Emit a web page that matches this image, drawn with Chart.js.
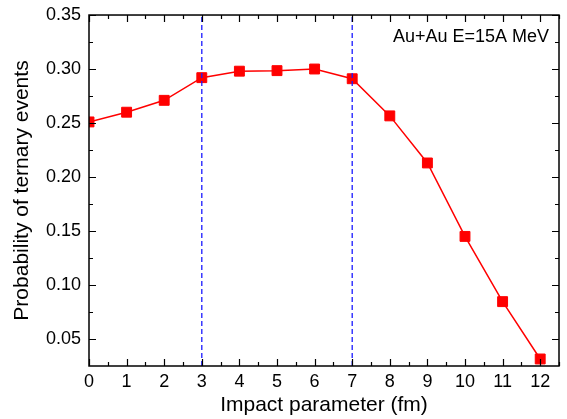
<!DOCTYPE html>
<html>
<head>
<meta charset="utf-8">
<script src="https://cdn.jsdelivr.net/npm/chart.js@4/dist/chart.umd.min.js"></script>
<style>
  html, body { margin: 0; padding: 0; background: #fff; }
  #wrap { width: 567px; height: 419px; }
</style>
</head>
<body>
<div id="wrap"><canvas id="ternaryChart" width="567" height="419"></canvas></div>
<script>
// datos
const impactParams = [0, 1, 2, 3, 4, 5, 6, 7, 8, 9, 10, 11, 12];
const ternaryProb = [0.251, 0.260, 0.271, 0.292, 0.298, 0.2985, 0.300, 0.291, 0.2566, 0.213, 0.145, 0.0846, 0.0315];
const cutLines = [3, 7]; // lineas verticales punteadas
const xTicks = [0, 1, 2, 3, 4, 5, 6, 7, 8, 9, 10, 11, 12];
const yTicks = [0.05, 0.10, 0.15, 0.20, 0.25, 0.30, 0.35];
const xRange = [0, 12.5];
const yRange = [0.025, 0.35];
const annotation = 'Au+Au E=15A MeV';

const FONT = 'Liberation Sans, Arial, sans-serif';

document.addEventListener("DOMContentLoaded", function () {
    var ctx = document.getElementById('ternaryChart').getContext('2d');

    // marco con ticks hacia adentro en los cuatro lados
    const framePlugin = {
        id: 'frame',
        afterDraw(chart) {
            const c = chart.ctx;
            const area = chart.chartArea;
            const xs = chart.scales.x, ys = chart.scales.y;
            c.save();
            c.strokeStyle = '#000';
            c.lineWidth = 1.5;
            c.strokeRect(area.left, area.top, area.right - area.left, area.bottom - area.top);
            c.lineWidth = 1.2;
            c.beginPath();
            for (let v = xRange[0]; v <= xRange[1] + 1e-9; v += 0.5) {
                const px = Math.round(xs.getPixelForValue(v)) + 0.5;
                const len = Number.isInteger(v) ? 7 : 4;
                c.moveTo(px, area.bottom); c.lineTo(px, area.bottom - len);
                c.moveTo(px, area.top); c.lineTo(px, area.top + len);
            }
            for (let i = 1; i <= 13; i++) {
                const v = yRange[0] + i * 0.025;
                const py = Math.round(ys.getPixelForValue(v)) + 0.5;
                const len = (i % 2 === 1) ? 7 : 4;
                c.moveTo(area.left, py); c.lineTo(area.left + len, py);
                c.moveTo(area.right, py); c.lineTo(area.right - len, py);
            }
            c.stroke();
            // texto de la anotacion
            c.fillStyle = '#000';
            c.font = '18px ' + FONT;
            c.textAlign = 'right';
            c.textBaseline = 'middle';
            c.fillText(annotation, area.right - 10, 37);
            c.restore();
        }
    };

    const datasets = [{
        label: 'ternary',
        data: impactParams.map((x, i) => ({ x: x, y: ternaryProb[i] })),
        borderColor: '#ff0000',
        backgroundColor: '#ff0000',
        borderWidth: 1.5,
        pointStyle: 'rect',
        pointRadius: 7,
        pointBorderWidth: 1,
        showLine: true,
        order: 1
    }];
    cutLines.forEach(function (b) {
        datasets.push({
            label: 'b=' + b,
            data: [{ x: b, y: yRange[0] }, { x: b, y: yRange[1] }],
            borderColor: '#1a1aff',
            borderWidth: 1.3,
            borderDash: [5, 3],
            pointRadius: 0,
            showLine: true,
            order: 0
        });
    });

    new Chart(ctx, {
        type: 'scatter',
        data: { datasets: datasets },
        options: {
            responsive: false,
            animation: false,
            devicePixelRatio: 1,
            layout: { padding: { top: 15, right: 5, left: 0, bottom: 0 } },
            plugins: { legend: { display: false }, tooltip: { enabled: false } },
            scales: {
                x: {
                    type: 'linear',
                    min: xRange[0], max: xRange[1],
                    afterBuildTicks: function (s) { s.ticks = xTicks.map(v => ({ value: v })); },
                    afterFit: function (s) { s.height = 53; },
                    grid: { display: false, drawTicks: false },
                    border: { display: false },
                    ticks: { color: '#000', padding: 5, font: { family: FONT, size: 18 }, maxRotation: 0 },
                    title: { display: true, text: 'Impact parameter (fm)', color: '#000',
                             font: { family: FONT, size: 21 }, padding: { top: 0, bottom: 1 } }
                },
                y: {
                    type: 'linear',
                    min: yRange[0], max: yRange[1],
                    afterBuildTicks: function (s) { s.ticks = yTicks.map(v => ({ value: v })); },
                    afterFit: function (s) { s.width = 89; },
                    grid: { display: false, drawTicks: false },
                    border: { display: false },
                    ticks: { color: '#000', padding: 8, font: { family: FONT, size: 18, lineHeight: 0.78 },
                             callback: function (v) { return v.toFixed(2); } },
                    title: { display: true, text: 'Probability of ternary events', color: '#000',
                             font: { family: FONT, size: 21 }, padding: { top: 10, bottom: 0 } }
                }
            }
        },
        plugins: [framePlugin]
    });
});
</script>
</body>
</html>
